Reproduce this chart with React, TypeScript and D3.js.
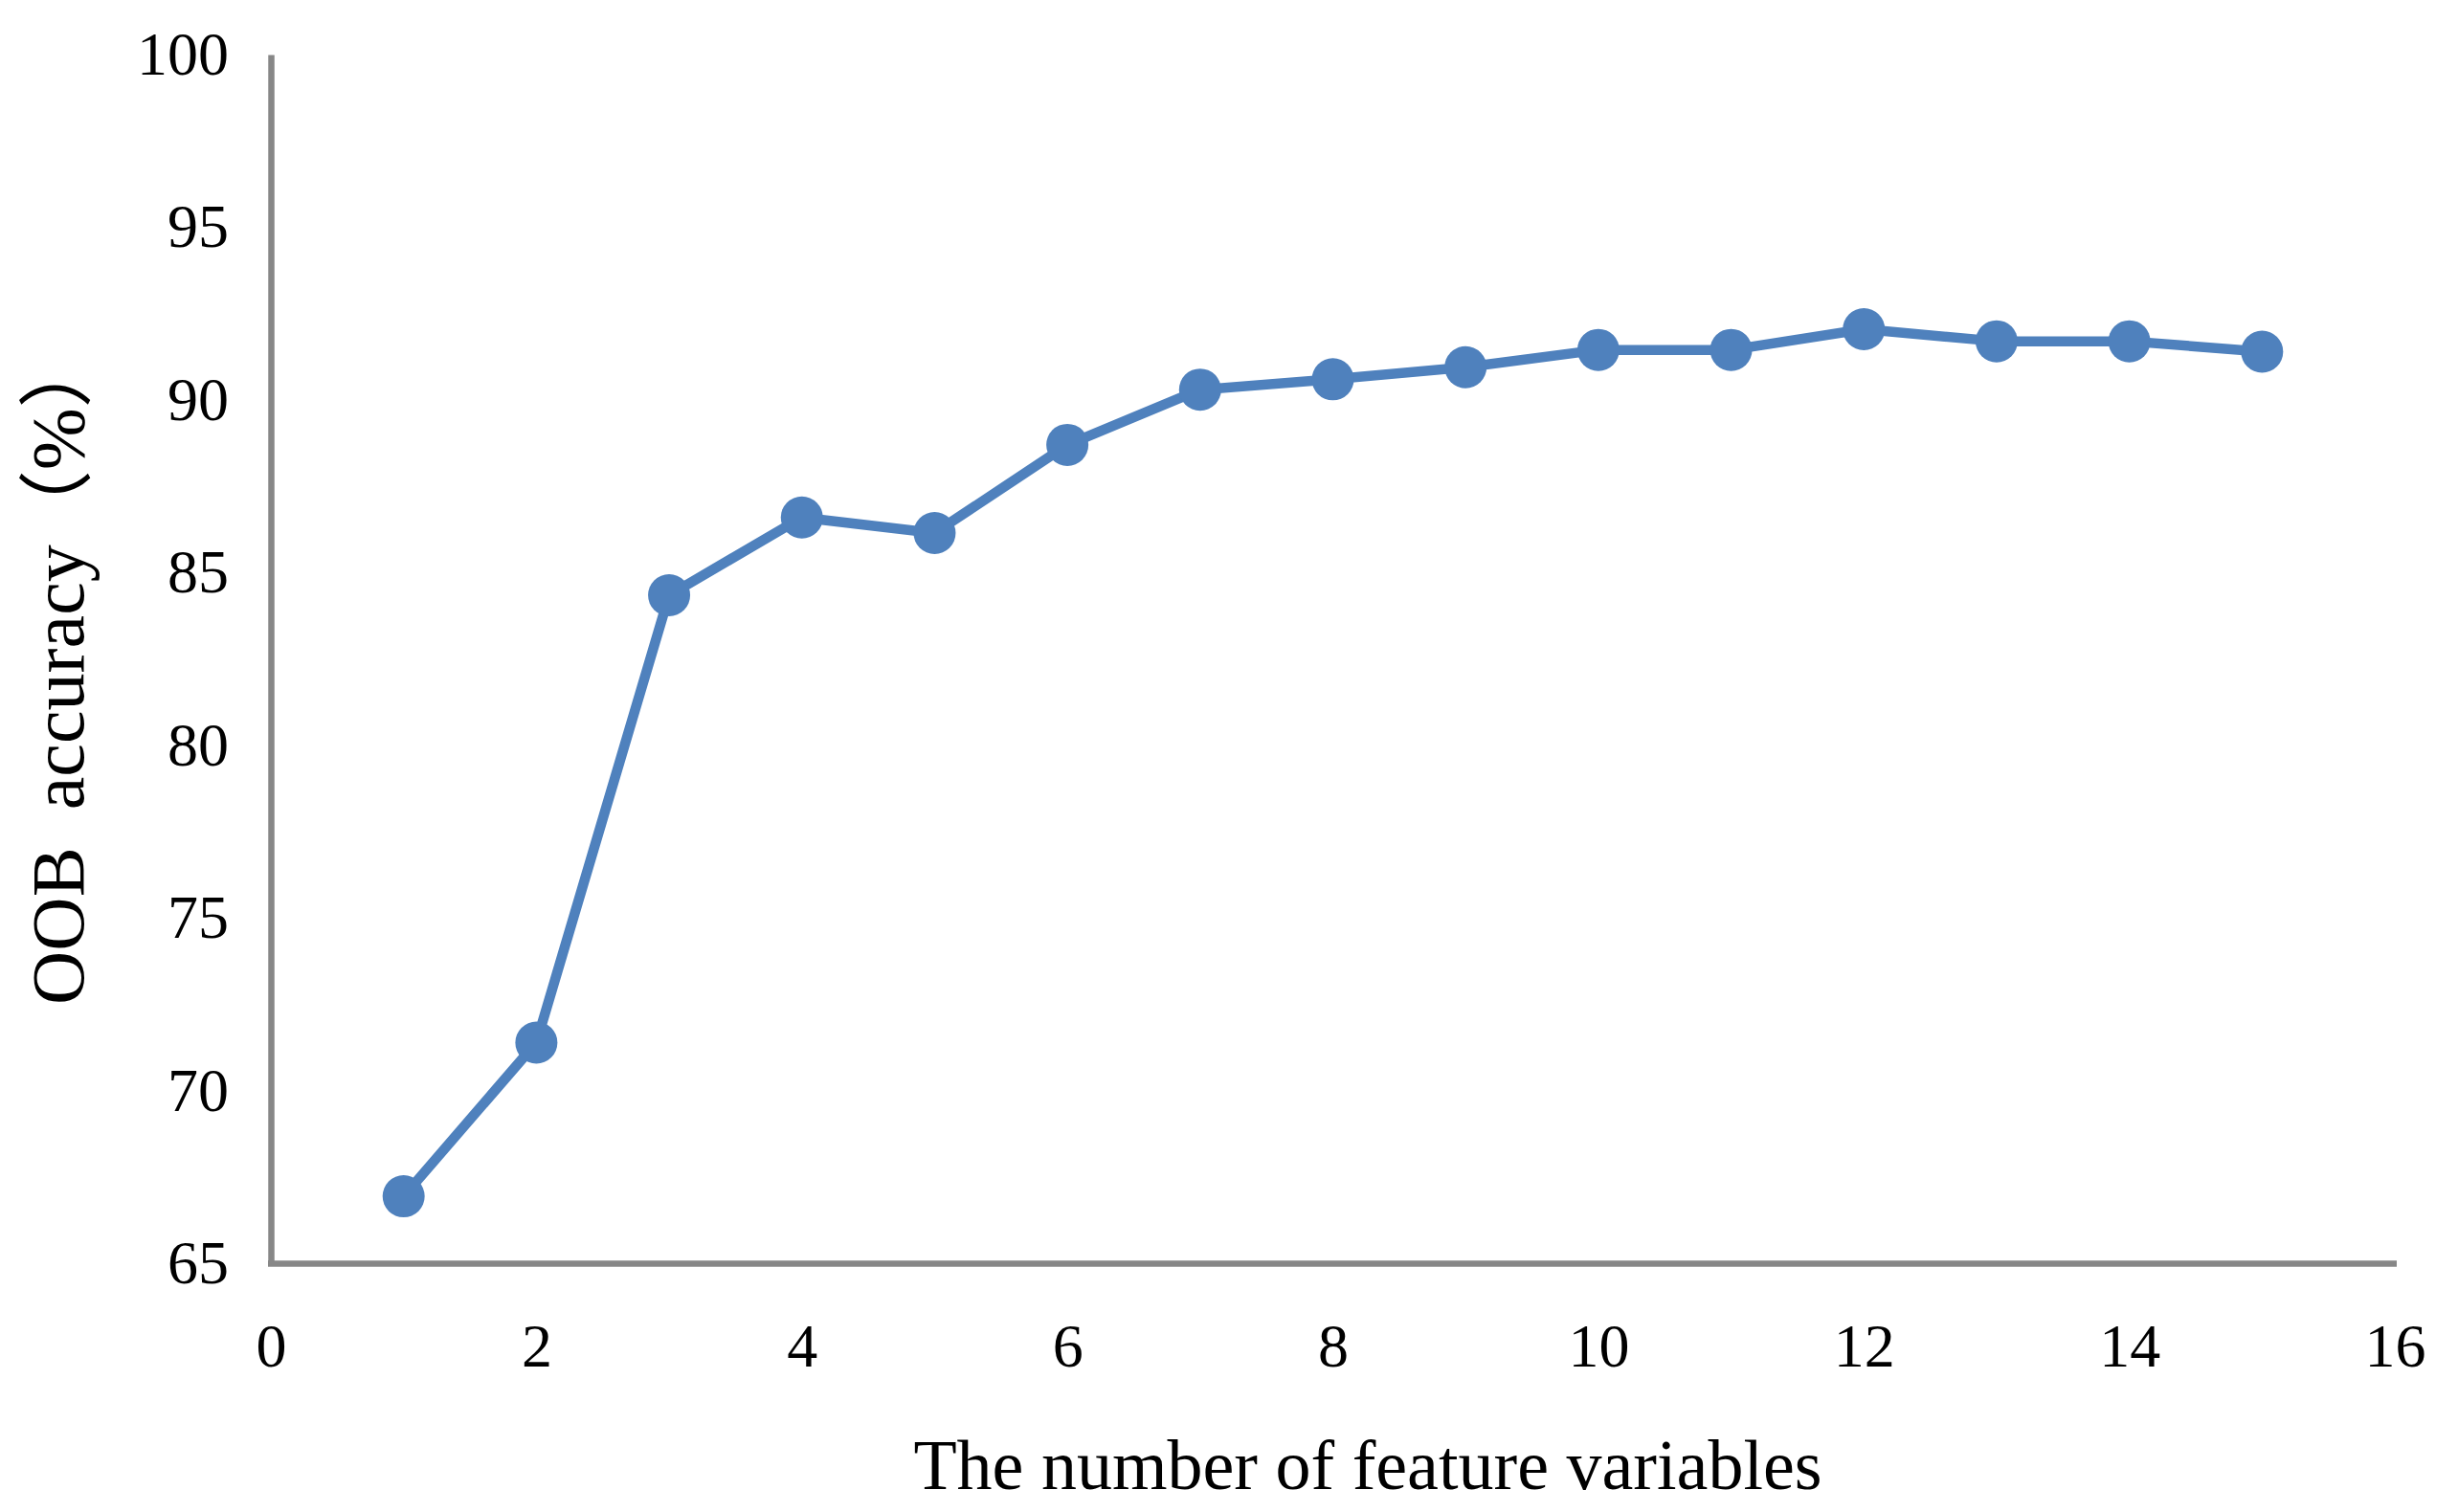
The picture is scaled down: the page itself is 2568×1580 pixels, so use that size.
import React, { useEffect, useRef } from "react";
import * as d3 from "d3";

// number of feature variables vs OOB accuracy (%)
const featureCounts = [1, 2, 3, 4, 5, 6, 7, 8, 9, 10, 11, 12, 13, 14, 15];
const oobAccuracy = [66.95, 71.4, 84.35, 86.6, 86.15, 88.7, 90.3, 90.6, 90.95, 91.45, 91.45, 92.05, 91.7, 91.7, 91.4];
const xTicks = [0, 2, 4, 6, 8, 10, 12, 14, 16];
const yTicks = [65, 70, 75, 80, 85, 90, 95, 100];

const xTitle = "The number of feature variables";
const yTitle = "OOB  accuracy（%）";

const W = 2568;
const H = 1580;
const FONT = "'Times New Roman', 'Liberation Serif', 'Noto Sans CJK SC', serif";
const BLUE = "#4f81bd";
const AXIS = "#878787";

export default function App() {
  const svgRef = useRef<SVGSVGElement>(null);

  useEffect(() => {
    const svg = d3.select(svgRef.current);
    svg.selectAll("*").remove();

    const x = d3.scaleLinear().domain([0, 16]).range([283, 2502]);
    const y = d3.scaleLinear().domain([65, 100]).range([1320.5, 57]);

    const data = featureCounts.map((c, i) => ({ c, v: oobAccuracy[i] }));

    // y axis
    const yAxis = svg.append("g")
      .attr("transform", `translate(${x(0)},0)`)
      .call(d3.axisLeft(y).tickValues(yTicks).tickSize(0).tickSizeOuter(0).tickPadding(44));
    yAxis.select(".domain").attr("stroke", AXIS).attr("stroke-width", 6.5);
    yAxis.selectAll("text")
      .attr("font-family", FONT)
      .attr("font-size", 64)
      .attr("fill", "#000");

    // x axis
    const xAxis = svg.append("g")
      .attr("transform", `translate(0,${y(65)})`)
      .call(d3.axisBottom(x).tickValues(xTicks).tickSize(0).tickSizeOuter(0).tickPadding(62));
    xAxis.select(".domain").attr("stroke", AXIS).attr("stroke-width", 6.5)
      .attr("d", `M${x(0) - 3},0H${x(16) + 2}`);
    xAxis.selectAll("text")
      .attr("font-family", FONT)
      .attr("font-size", 64)
      .attr("fill", "#000");

    // line
    const line = d3.line<{ c: number; v: number }>()
      .x(d => x(d.c))
      .y(d => y(d.v));

    svg.append("path")
      .datum(data)
      .attr("d", line)
      .attr("fill", "none")
      .attr("stroke", BLUE)
      .attr("stroke-width", 10.5)
      .attr("stroke-linejoin", "round");

    svg.selectAll(".dot")
      .data(data)
      .join("circle")
      .attr("class", "dot")
      .attr("cx", d => x(d.c))
      .attr("cy", d => y(d.v))
      .attr("r", 22)
      .attr("fill", BLUE);

    // axis titles
    svg.append("text")
      .attr("x", 1429)
      .attr("y", 1556)
      .attr("text-anchor", "middle")
      .attr("font-family", FONT)
      .attr("font-size", 74)
      .attr("fill", "#000")
      .text(xTitle);

    svg.append("text")
      .attr("transform", "translate(87,1050) rotate(-90)")
      .attr("text-anchor", "start")
      .attr("font-family", FONT)
      .attr("font-size", 78)
      .attr("fill", "#000")
      .style("white-space", "pre")
      .text(yTitle);
  }, []);

  return (
    <svg
      ref={svgRef}
      width={W}
      height={H}
      style={{ position: "absolute", left: 0, top: 0, background: "#fff" }}
    />
  );
}
